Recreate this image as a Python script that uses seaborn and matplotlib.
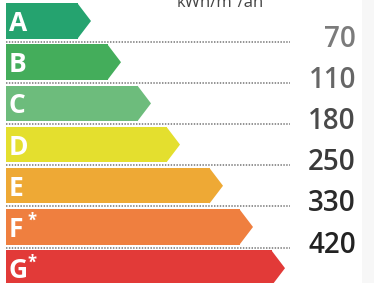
import matplotlib
matplotlib.use("Agg")
import matplotlib.pyplot as plt
from matplotlib.patches import Polygon
import seaborn as sns
import pandas as pd

# ---- data ----
classes = ["A", "B", "C", "D", "E", "F", "G"]
class_marks = ["", "", "", "", "", "*", "*"]
bar_length = [85, 115, 145, 174, 217, 247, 279]   # arrow tip position (relative scale)
thresholds = [70, 110, 180, 250, 330, 420]
unit_label = "kWh/m²/an"
bar_colors = ["#25a36f", "#44ad5b", "#6dbc7c", "#e4df2e", "#eea935", "#ef7f3f", "#e23a38"]
value_colors = ["#7b7b7b", "#666666", "#4a4a4a", "#3a3a3a", "#2a2a2a", "#222222"]

TIP = 13  # arrow point depth
df = pd.DataFrame({"cls": classes, "body": [b - TIP for b in bar_length]})

sns.set_theme(style="white")
plt.rcParams["font.family"] = ["Open Sans", "DejaVu Sans"]

fig = plt.figure(figsize=(3.74, 2.83), dpi=100)
ax = fig.add_axes([0, 0, 1, 1])
ax.axvspan(356, 370, color="#f7f7f7", lw=0, zorder=0)

sns.barplot(data=df, x="body", y="cls", hue="cls", palette=bar_colors,
            legend=False, orient="h", width=0.86, saturation=1,
            linewidth=0, ax=ax, zorder=2)

# arrow tips, built on the bars seaborn drew
bars = [pp for pp in ax.patches if pp.get_width() > 0 and pp.get_height() < 1]
for p, col, L in zip(bars, bar_colors, bar_length):
    x1 = p.get_x() + p.get_width()
    y0 = p.get_y()
    h = p.get_height()
    tri = Polygon([(x1 - 0.5, y0), (L, y0 + h / 2), (x1 - 0.5, y0 + h)],
                  closed=True, color=col, lw=0, zorder=2)
    ax.add_patch(tri)

# class letters
for i, (c, m) in enumerate(zip(classes, class_marks)):
    ax.text(3, i + 0.06, c, color="white", fontsize=19, fontweight="bold",
            va="center", ha="left", zorder=3)
    if m:
        ax.text(21.5, i - 0.14, m, color="white", fontsize=12, fontweight="bold",
                va="center", ha="left", zorder=3)

# dotted separators and threshold values
for i, (v, vc) in enumerate(zip(thresholds, value_colors)):
    yb = i + 0.5
    ax.plot([0, 284], [yb, yb], color="#8a8a8a", lw=1.3,
            linestyle=(0, (0.8, 0.8)), zorder=1)
    ax.text(350, yb - 0.06, str(v), color=vc, fontsize=20, fontweight="semibold",
            ha="right", va="center", zorder=3)

ax.text(214, -0.34, unit_label, color="#444444", fontsize=12, ha="center",
        va="baseline", clip_on=False)

ax.set_xlim(-6, 368)
ax.set_ylim(6.36, -0.51)
ax.set_axis_off()
fig.savefig("out.png", dpi=100, facecolor="white")
